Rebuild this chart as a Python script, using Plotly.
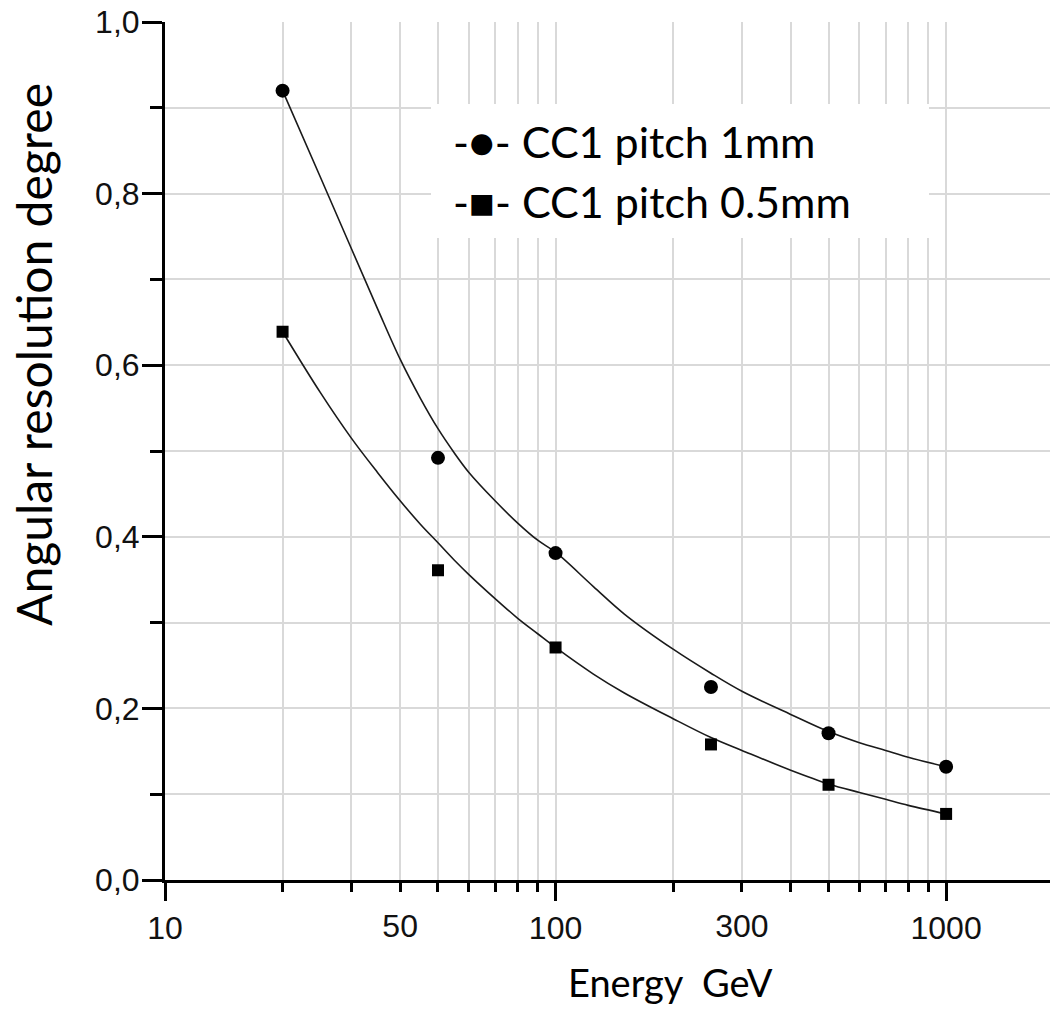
import plotly.graph_objects as go

# ---- data ----
energy = [20, 50, 100, 250, 500, 1000]
res_pitch_1mm = [0.920, 0.492, 0.381, 0.225, 0.171, 0.132]
res_pitch_05mm = [0.639, 0.361, 0.271, 0.158, 0.111, 0.077]

# fitted curves
fit_energy = [20, 25, 30, 35, 40, 45, 50, 55, 60, 70, 80, 90, 100, 125, 150, 200,
              250, 300, 400, 500, 600, 700, 800, 1000]
fit_res_1mm = [0.920, 0.819, 0.736, 0.666, 0.607, 0.562, 0.526, 0.498, 0.475, 0.442,
               0.416, 0.396, 0.382, 0.342, 0.310, 0.269, 0.241, 0.220, 0.193, 0.173,
               0.160, 0.151, 0.143, 0.132]
fit_res_05mm = [0.639, 0.568, 0.515, 0.475, 0.442, 0.415, 0.393, 0.373, 0.356, 0.328,
                0.305, 0.287, 0.271, 0.240, 0.218, 0.188, 0.166, 0.151, 0.128, 0.112,
                0.102, 0.094, 0.087, 0.077]

x_major_ticks = [10, 100, 1000]
x_major_labels = ["10", "100", "1000"]
x_extra_tick_pos = [40, 300]
x_extra_labels = ["50", "300"]
x_minor_ticks = [20, 30, 40, 50, 60, 70, 80, 90, 200, 300, 400, 500, 600, 700, 800, 900]
y_ticks = [0.0, 0.2, 0.4, 0.6, 0.8, 1.0]

series_names = ["CC1 pitch 1mm", "CC1 pitch 0.5mm"]

W, H = 1052, 1016
ML, MR, MT, MB = 165, 2, 22, 136
PW, PH = W - ML - MR, H - MT - MB


def px_x(px):
    return (px - ML) / PW


def px_y(py):
    return (H - MB - py) / PH


LINE = "#1a1a1a"
GRID = "#d9d9d9"
TICKFONT = dict(family="Liberation Sans, Arial, sans-serif", size=32, color="#111111")
TEXTFONT = "Lato, Open Sans, sans-serif"

fig = go.Figure()

fig.add_trace(go.Scatter(x=fit_energy, y=fit_res_1mm, mode="lines",
                         line=dict(color=LINE, width=1.6, shape="spline", smoothing=1.0),
                         showlegend=False, hoverinfo="skip"))
fig.add_trace(go.Scatter(x=fit_energy, y=fit_res_05mm, mode="lines",
                         line=dict(color=LINE, width=1.6, shape="spline", smoothing=1.0),
                         showlegend=False, hoverinfo="skip"))
fig.add_trace(go.Scatter(x=energy, y=res_pitch_1mm, mode="markers", name=series_names[0],
                         marker=dict(symbol="circle", size=14, color="#000000"),
                         showlegend=False, xaxis="x2"))
fig.add_trace(go.Scatter(x=energy, y=res_pitch_05mm, mode="markers", name=series_names[1],
                         marker=dict(symbol="square", size=12, color="#000000"),
                         showlegend=False, xaxis="x2"))

x_range = [1, 3.266]

fig.update_layout(
    width=W, height=H,
    margin=dict(l=ML, r=MR, t=MT, b=MB),
    paper_bgcolor="white", plot_bgcolor="white",
    separators=",.",
    xaxis=dict(
        type="log", range=x_range,
        tickvals=x_major_ticks, ticktext=x_major_labels,
        ticks="outside", ticklen=18, tickwidth=3, tickcolor="#000000",
        showline=True, linewidth=3, linecolor="#000000",
        showgrid=True, gridcolor=GRID, gridwidth=1.5,
        zeroline=False, tickfont=TICKFONT,
        minor=dict(tickvals=x_minor_ticks, ticks="outside", ticklen=9, tickwidth=3,
                   tickcolor="#000000", showgrid=True, gridcolor=GRID, gridwidth=1.5),
    ),
    xaxis2=dict(
        type="log", range=x_range, overlaying="x", anchor="y", side="bottom",
        tickvals=x_extra_tick_pos, ticktext=x_extra_labels,
        ticks="outside", ticklen=18, tickcolor="rgba(0,0,0,0)", tickwidth=0,
        showline=False, showgrid=False, zeroline=False, tickfont=TICKFONT,
    ),
    yaxis=dict(
        range=[0, 1], tickvals=y_ticks, tickformat=".1f",
        ticks="outside", ticklen=20, tickwidth=3, tickcolor="#000000",
        showline=True, linewidth=3, linecolor="#000000",
        showgrid=True, gridcolor=GRID, gridwidth=1.5, zeroline=False,
        tickfont=TICKFONT, ticklabelstandoff=-4,
        minor=dict(dtick=0.1, ticks="outside", ticklen=12, tickwidth=3,
                   tickcolor="#000000", showgrid=True, gridcolor=GRID, gridwidth=1.5),
    ),
)

# legend box (white panel) and entries
fig.add_shape(type="rect", xref="paper", yref="paper",
              x0=px_x(431), x1=px_x(929), y0=px_y(238), y1=px_y(104),
              fillcolor="white", line=dict(width=0), layer="above")
fig.add_annotation(xref="paper", yref="paper", x=px_x(451), y=px_y(141),
                   xanchor="left", yanchor="middle", showarrow=False,
                   text="-\u25CF- " + series_names[0],
                   font=dict(family=TEXTFONT, size=43, color="#000000"))
fig.add_annotation(xref="paper", yref="paper", x=px_x(451), y=px_y(201),
                   xanchor="left", yanchor="middle", showarrow=False,
                   text="-\u25A0- " + series_names[1],
                   font=dict(family=TEXTFONT, size=43, color="#000000"))

# axis titles
fig.add_annotation(xref="paper", yref="paper", x=px_x(33), y=px_y(355),
                   xanchor="center", yanchor="middle", showarrow=False, textangle=-90,
                   text="Angular resolution degree", borderpad=0,
                   font=dict(family=TEXTFONT, size=48, color="#000000"))
fig.add_annotation(xref="paper", yref="paper", x=px_x(670), y=px_y(982),
                   xanchor="center", yanchor="middle", showarrow=False,
                   text="Energy&nbsp; GeV",
                   font=dict(family=TEXTFONT, size=38, color="#000000"))

fig.write_html("out.html")
